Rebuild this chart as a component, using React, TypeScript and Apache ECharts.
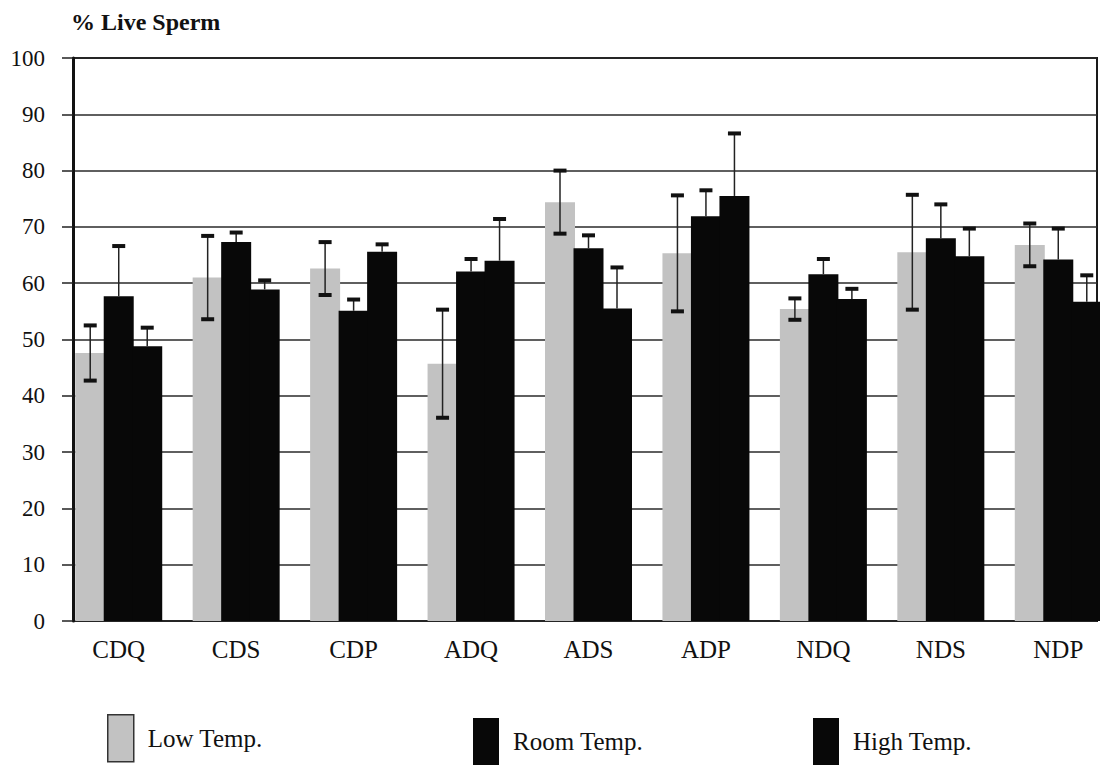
import React, { useEffect, useRef } from "react";
import * as echarts from "echarts";

const categories = ["CDQ", "CDS", "CDP", "ADQ", "ADS", "ADP", "NDQ", "NDS", "NDP"];
const lowTemp = [47.6, 61.0, 62.6, 45.7, 74.4, 65.3, 55.4, 65.5, 66.8];
const lowErr = [4.9, 7.4, 4.7, 9.6, 5.6, 10.3, 1.9, 10.2, 3.8];
const roomTemp = [57.7, 67.3, 55.1, 62.1, 66.2, 71.9, 61.6, 68.0, 64.2];
const roomErr = [8.9, 1.7, 2.0, 2.2, 2.3, 4.6, 2.7, 6.0, 5.5];
const highTemp = [48.8, 58.9, 65.6, 64.0, 55.5, 75.5, 57.2, 64.8, 56.7];
const highErr = [3.3, 1.6, 1.3, 7.4, 7.3, 11.1, 1.8, 4.9, 4.7];
const seriesNames = ["Low Temp.", "Room Temp.", "High Temp."];

const FONT = "'Liberation Serif', 'Times New Roman', serif";
const BAR_W = 30;
const GAP_FRAC = -0.05;
const STEP = BAR_W * (1 + GAP_FRAC);

function errSeries(vals: number[], errs: number[], offset: number, both: boolean) {
  return {
    type: "custom",
    xAxisIndex: 1,
    yAxisIndex: 1,
    z: 5,
    silent: true,
    data: vals.map((v, i) => [i, v, errs[i]]),
    renderItem: (params: any, api: any) => {
      const i = api.value(0);
      const v = api.value(1);
      const e = api.value(2);
      const top = api.coord([i, v + e]);
      const bot = api.coord([i, both ? v - e : v]);
      const x = top[0] + offset;
      const cap = 13;
      const children: any[] = [
        { type: "line", shape: { x1: x, y1: top[1], x2: x, y2: bot[1] }, style: { stroke: "#222", lineWidth: 1.5 } },
        { type: "rect", shape: { x: x - cap / 2, y: top[1] - 2, width: cap, height: 4 }, style: { fill: "#111" } },
      ];
      if (both) {
        children.push({ type: "rect", shape: { x: x - cap / 2, y: bot[1] - 2, width: cap, height: 4 }, style: { fill: "#111" } });
      }
      return { type: "group", children };
    },
  };
}

function legendFor(name: string, left: number, top: number, border: boolean) {
  return {
    data: [name],
    left,
    top,
    padding: 0,
    orient: "horizontal",
    icon: "rect",
    itemWidth: 26,
    itemHeight: 47,
    selectedMode: false,
    itemStyle: border ? { borderColor: "#333", borderWidth: 1.5 } : {},
    textStyle: { fontFamily: FONT, fontSize: 25, color: "#111", padding: [0, 0, 0, 9] },
  };
}

export default function App() {
  const ref = useRef<HTMLDivElement>(null);
  useEffect(() => {
    if (!ref.current) return;
    const chart = echarts.init(ref.current, null, { renderer: "svg" });
    const gap = `${GAP_FRAC * 100}%`;
    const option: any = {
      animation: false,
      backgroundColor: "#ffffff",
      title: {
        text: "% Live Sperm",
        left: 71,
        top: 10,
        padding: 0,
        textStyle: { fontFamily: FONT, fontWeight: "bold", fontSize: 24, color: "#111" },
      },
      legend: [
        legendFor(seriesNames[0], 107, 714, true),
        legendFor(seriesNames[1], 473, 718, false),
        legendFor(seriesNames[2], 813, 718, false),
      ],
      grid: [
        { left: 73, top: 58, width: 1024, bottom: 145, show: true, borderColor: "#1a1a1a", borderWidth: 2, backgroundColor: "transparent" },
        { left: 60, top: 58, width: 1057, bottom: 145 },
      ],
      xAxis: [
        { gridIndex: 0, type: "value", show: false, min: 0, max: 1 },
        {
          gridIndex: 1,
          type: "category",
          data: categories,
          axisLine: { show: false },
          axisTick: { show: false },
          axisLabel: { fontFamily: FONT, fontSize: 25, color: "#111", margin: 16 },
        },
      ],
      yAxis: [
        {
          gridIndex: 0,
          type: "value",
          min: 0,
          max: 100,
          interval: 10,
          axisLine: { show: true, lineStyle: { color: "#111", width: 3 } },
          axisTick: { show: true, length: 11, lineStyle: { color: "#222", width: 1.5 } },
          axisLabel: { fontFamily: FONT, fontSize: 23, color: "#111", margin: 28 },
          splitLine: { show: true, lineStyle: { color: "#2a2a2a", width: 1.5 } },
        },
        { gridIndex: 1, type: "value", min: 0, max: 100, show: false, splitLine: { show: false } },
      ],
      series: [
        { name: seriesNames[0], type: "bar", xAxisIndex: 1, yAxisIndex: 1, data: lowTemp, barWidth: BAR_W, barGap: gap, itemStyle: { color: "#c2c2c2" }, z: 2 },
        { name: seriesNames[1], type: "bar", xAxisIndex: 1, yAxisIndex: 1, data: roomTemp, barWidth: BAR_W, barGap: gap, itemStyle: { color: "#080808" }, z: 3 },
        { name: seriesNames[2], type: "bar", xAxisIndex: 1, yAxisIndex: 1, data: highTemp, barWidth: BAR_W, barGap: gap, itemStyle: { color: "#080808" }, z: 3 },
        errSeries(lowTemp, lowErr, -STEP, true),
        errSeries(roomTemp, roomErr, 0, false),
        errSeries(highTemp, highErr, STEP, false),
      ],
    };
    chart.setOption(option);
    return () => chart.dispose();
  }, []);
  return (
    <div style={{ position: "absolute", left: 0, top: 0, width: 1100, height: 766, overflow: "hidden" }}>
      <div ref={ref} style={{ position: "absolute", left: 0, top: 0, width: 1130, height: 766 }} />
    </div>
  );
}
